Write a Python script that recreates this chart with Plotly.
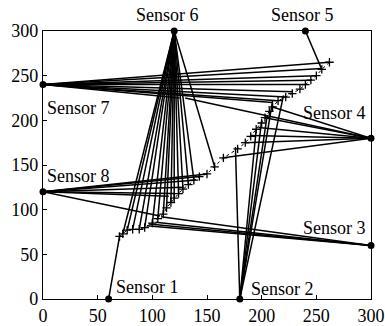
import plotly.graph_objects as go

# Sensor positions
sensor_names = ["Sensor 1", "Sensor 2", "Sensor 3", "Sensor 4", "Sensor 5", "Sensor 6", "Sensor 7", "Sensor 8"]
sensor_x = [60, 180, 300, 300, 240, 120, 0, 0]
sensor_y = [0, 0, 60, 180, 300, 300, 240, 120]

# Estimated trajectory (crosses)
traj_x = [70, 73, 77, 82, 88, 93, 100, 105, 110, 113, 117, 120, 124, 128, 133, 138, 143, 150, 157,
          165, 178, 185, 190, 195, 200, 203, 207, 210, 215, 222, 228, 235, 240, 245, 250, 255, 262]
traj_y = [70, 73, 77, 78, 78, 80, 85, 90, 95, 102, 108, 113, 118, 123, 128, 133, 137, 140, 148,
          158, 168, 175, 182, 190, 197, 203, 210, 215, 222, 226, 230, 235, 240, 245, 250, 257, 265]

# Measurement links: sensor index -> end points
links = {
    0: [(70, 70)],
    1: [(176, 170), (195, 190), (200, 200), (205, 205), (210, 222), (220, 228)],
    2: [(97, 84), (103, 86), (108, 92), (95, 82)],
    3: [(165, 158), (185, 175), (190, 183), (197, 192), (203, 203), (210, 215), (130, 225)],
    4: [(255, 257)],
    5: [(73, 73), (77, 77), (82, 78), (88, 78), (93, 80), (100, 85), (105, 90), (110, 95),
        (113, 102), (117, 108), (120, 113), (124, 118), (128, 123), (133, 128), (138, 133),
        (157, 148)],
    6: [(262, 265), (255, 258), (250, 250), (245, 245), (240, 240), (228, 232), (222, 226),
        (215, 222), (210, 220), (125, 225)],
    7: [(107, 93), (115, 115), (120, 118), (128, 125), (138, 133), (143, 137), (150, 140)],
}

lx, ly = [], []
for si, pts in links.items():
    for (px, py) in pts:
        lx += [sensor_x[si], px, None]
        ly += [sensor_y[si], py, None]

fig = go.Figure()
fig.add_trace(go.Scatter(x=lx, y=ly, mode="lines",
                         line=dict(color="black", width=1.5), hoverinfo="skip", showlegend=False))
fig.add_trace(go.Scatter(x=traj_x, y=traj_y, mode="lines+markers",
                         line=dict(color="black", width=1, dash="dot"),
                         marker=dict(symbol="cross-thin", size=6, line=dict(color="black", width=1.3)),
                         showlegend=False, cliponaxis=False))
fig.add_trace(go.Scatter(x=sensor_x, y=sensor_y, mode="markers",
                         marker=dict(color="black", size=7), showlegend=False, cliponaxis=False))

# Sensor labels: (x, y, anchor, pixel shift up)
label_pos = {
    "Sensor 1": (96, 13, "center", 0),
    "Sensor 2": (219, 11, "center", 0),
    "Sensor 3": (297, 80, "right", 0),
    "Sensor 4": (297, 208, "right", 0),
    "Sensor 5": (237, 300, "center", 16),
    "Sensor 6": (114, 300, "center", 16),
    "Sensor 7": (2, 214, "left", 0),
    "Sensor 8": (2, 138, "left", 0),
}
for name in sensor_names:
    x, y, al, ys = label_pos[name]
    fig.add_annotation(x=x, y=y, text=name, showarrow=False, xanchor=al, yanchor="middle",
                       yshift=ys,
                       font=dict(family="Liberation Serif", size=18, color="black"))

axis_common = dict(showgrid=False, zeroline=False, showline=True, linecolor="black", linewidth=1.2,
                   mirror=True, ticks="inside", ticklen=4, tickcolor="black", automargin=False,
                   tickfont=dict(family="Liberation Serif", size=18, color="black"))
fig.update_xaxes(range=[0, 300], tickvals=[0, 50, 100, 150, 200, 250, 300], **axis_common)
fig.update_yaxes(range=[0, 300], tickvals=[0, 50, 100, 150, 200, 250, 300], **axis_common)

fig.update_layout(width=385, height=326, margin=dict(l=43, r=14, t=31, b=27),
                  plot_bgcolor="white", paper_bgcolor="white")

fig.write_html("out.html", config={"displayModeBar": False},
               post_script="document.body.style.margin='0';")
